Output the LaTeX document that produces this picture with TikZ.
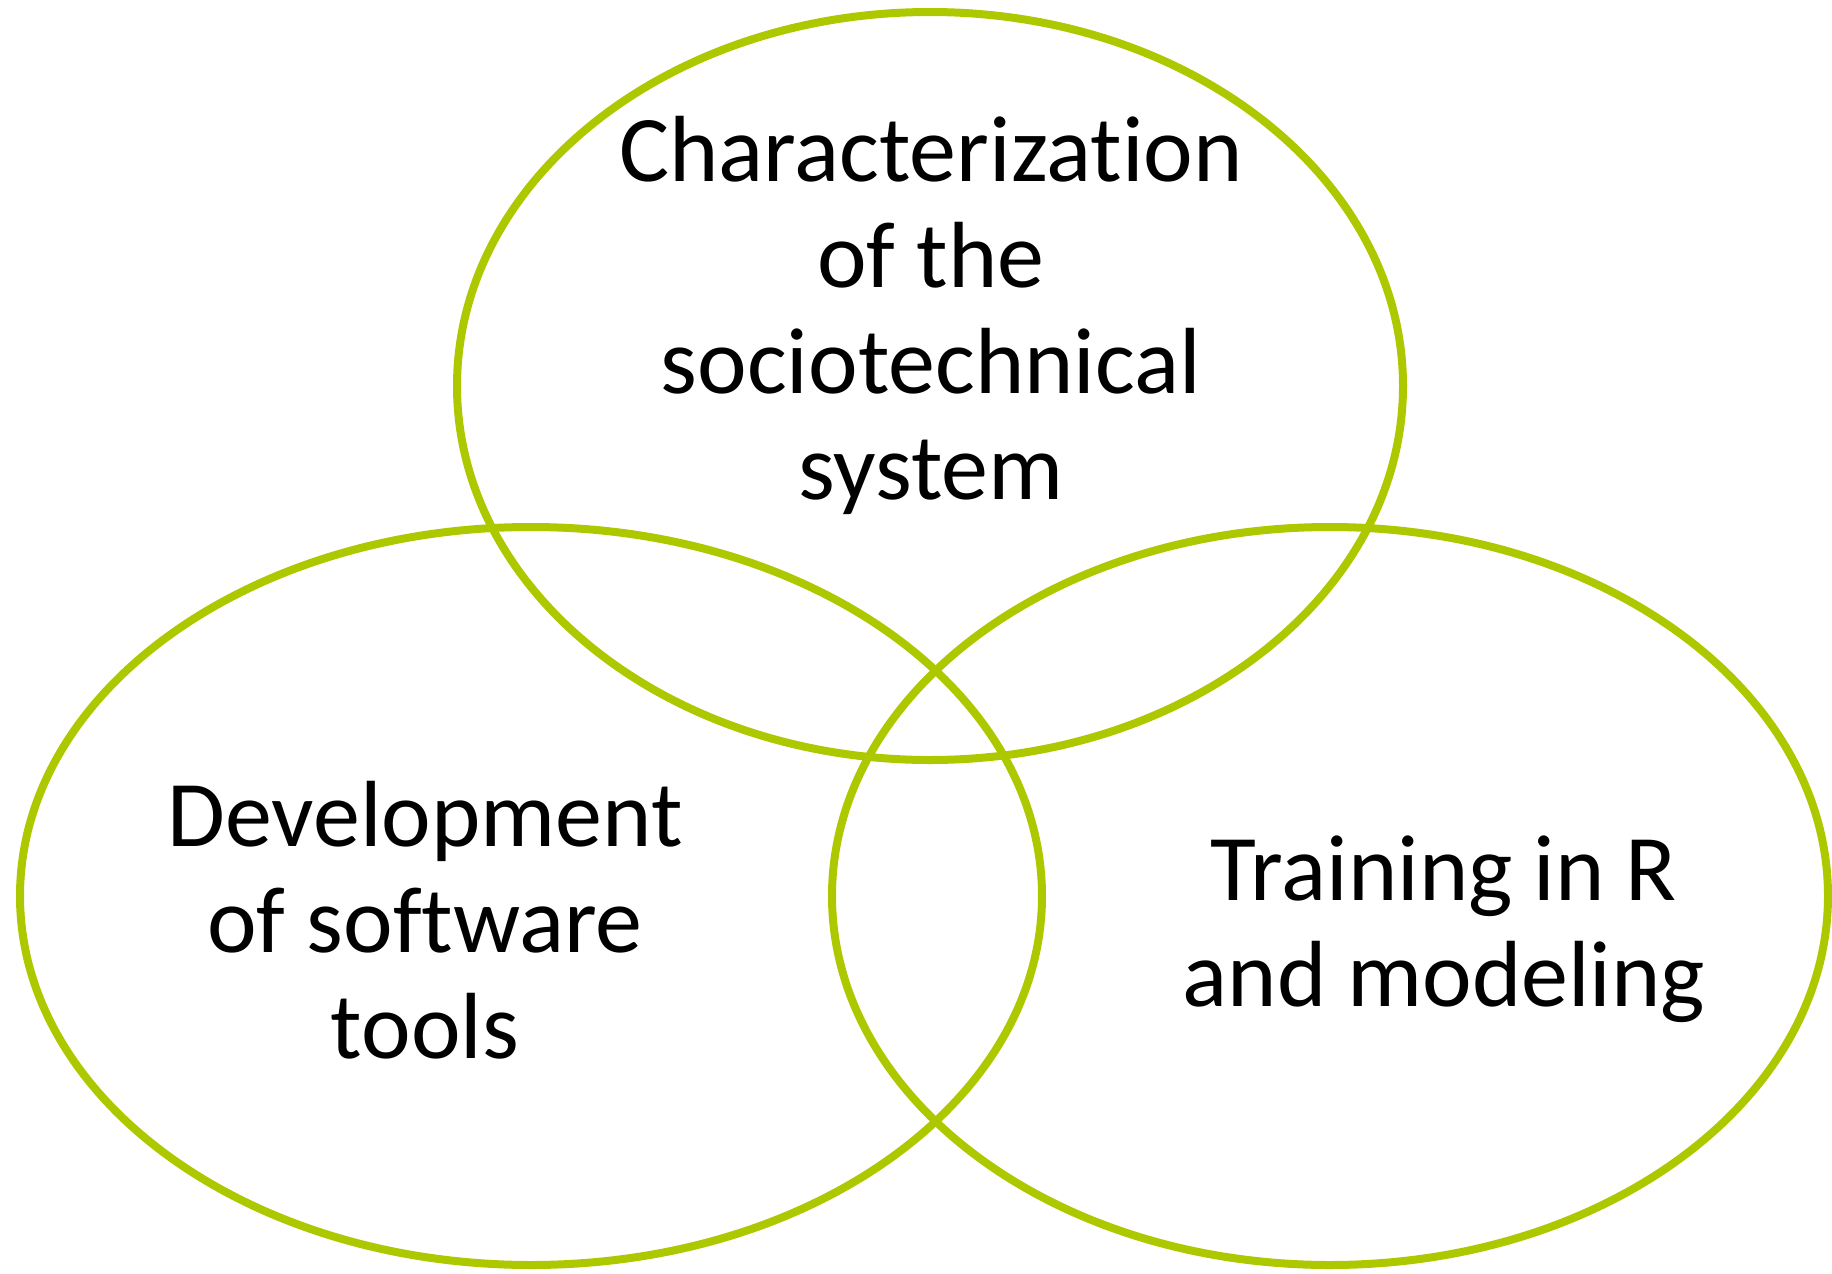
\documentclass[tikz,border=0pt]{standalone}
\usepackage{fontspec}
\setmainfont[Ligatures=NoCommon]{Carlito}
\definecolor{venngreen}{RGB}{174,200,0}
\begin{document}
\begin{tikzpicture}[x=1pt,y=-1pt,
  ring/.style={draw=venngreen,line width=8pt},
  label/.style={align=center,anchor=base,inner sep=0pt,
    font=\fontsize{94}{106}\selectfont}]
  \useasboundingbox (0,0) rectangle (1832,1274);
  % three overlapping ellipses
  \draw[ring] (930,386) ellipse [x radius=473, y radius=374];
  \draw[ring] (531,896) ellipse [x radius=511, y radius=369];
  \draw[ring] (1330,896) ellipse [x radius=498, y radius=369];
  % labels (anchored at the baseline of their last line)
  \node[label] (char) at (931,499) {Characterization\\of the\\sociotechnical\\system};
  \node[label] (dev) at (425,1058) {Development\\of software\\tools};
  \node[label] (train) at (1444,1006) {Training in R\\and modeling};
\end{tikzpicture}
\end{document}
